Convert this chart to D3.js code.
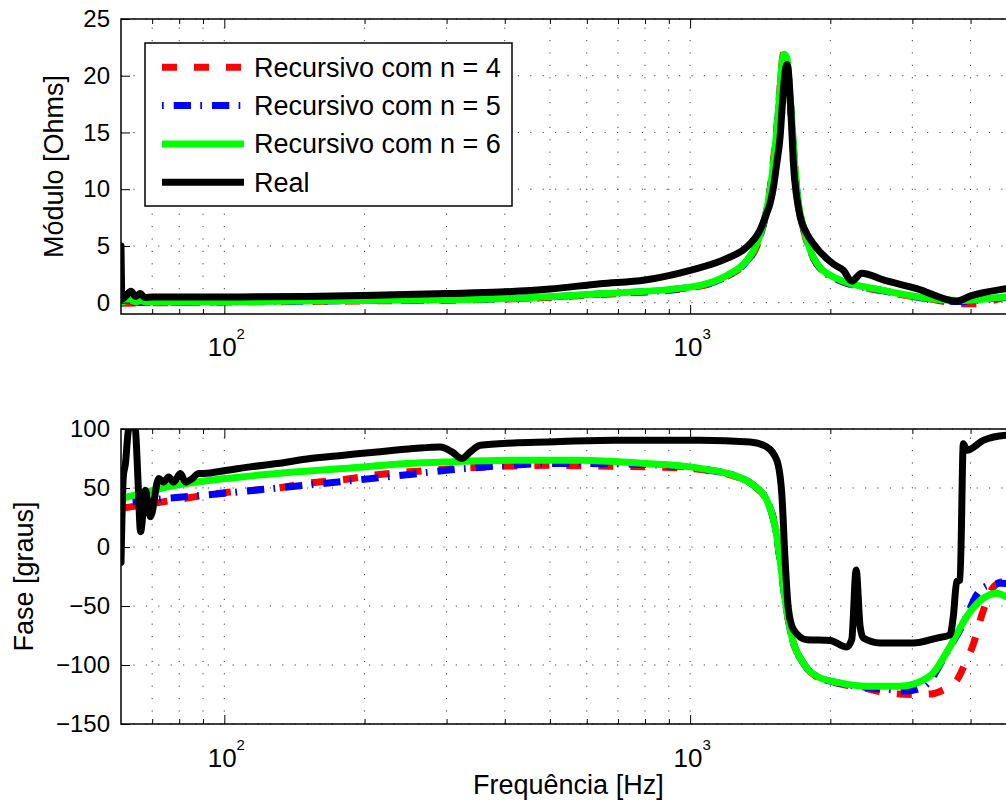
<!DOCTYPE html>
<html>
<head>
<meta charset="utf-8">
<script src="https://cdn.jsdelivr.net/npm/d3@7"></script>
<style>
  body { margin: 0; background: #fff; }
  svg { display: block; }
  text { font-family: "Liberation Sans", Arial, Helvetica, sans-serif; fill: #000; }
</style>
</head>
<body>
<svg id="chart" width="1006" height="808"></svg>
<script>
// ---- Data -------------------------------------------------------------
const seriesNames = ["Recursivo com n = 4", "Recursivo com n = 5", "Recursivo com n = 6", "Real"];

const freqLimits = [60, 5000];
const xMajorTicks = [100, 1000];
const xMinorTicks = [70, 80, 90, 200, 300, 400, 500, 600, 700, 800, 900, 2000, 3000, 4000];
const xTickExponents = ["2", "3"];

const modLimits = [-1, 25];
const modTicks = [0, 5, 10, 15, 20, 25];
const faseLimits = [-150, 100];
const faseTicks = [-150, -100, -50, 0, 50, 100];

// Impedance magnitude [Ohms]
const modFreqN4 = [60, 100, 200, 390, 641, 1000, 1199, 1323, 1391, 1449, 1485, 1510, 1535, 1560, 1573, 1590, 1613, 1626, 1653, 1680, 1708, 1750, 1839, 2030, 2599, 3300, 3900, 4100, 4766, 5000];
const modN4 = [-0.05, 0.05, 0.15, 0.3, 0.72, 1.3, 2.3, 3.6, 5.0, 7.6, 10.0, 12.6, 15.5, 19.0, 21.0, 22.0, 21.6, 19.8, 15.8, 11.5, 8.6, 6.5, 3.9, 2.2, 1.0, 0.3, -0.1, -0.1, 0.45, 0.5];

const modFreqN5 = [60, 100, 200, 390, 641, 1000, 1199, 1323, 1391, 1449, 1485, 1510, 1535, 1560, 1573, 1590, 1613, 1626, 1653, 1680, 1708, 1750, 1839, 2030, 2599, 3300, 3736, 4766, 5000];
const modN5 = [0, 0.07, 0.18, 0.33, 0.76, 1.34, 2.35, 3.65, 5.1, 7.5, 9.8, 12.2, 15.1, 18.7, 20.7, 21.8, 21.5, 19.9, 16, 11.6, 8.7, 6.6, 3.95, 2.2, 1.05, 0.3, 0.1, 0.47, 0.52];

const modFreqN6 = [60, 63, 64.5, 66, 68, 100, 200, 390, 641, 1000, 1199, 1323, 1391, 1449, 1485, 1510, 1535, 1560, 1573, 1590, 1613, 1626, 1653, 1680, 1708, 1750, 1839, 2030, 2599, 3300, 3736, 4766, 5000];
const modN6 = [0, 0.25, 0.05, 0.2, 0.05, 0.08, 0.2, 0.35, 0.79, 1.37, 2.4, 3.7, 5.2, 7.6, 9.9, 12.3, 15.2, 18.8, 20.8, 21.9, 21.6, 20, 16.1, 11.7, 8.75, 6.7, 4.0, 2.26, 1.08, 0.35, 0.2, 0.49, 0.55];

const modFreqReal = [60, 60.3, 61.5, 63, 64.5, 66, 67.5, 70, 100, 150, 210, 300, 390, 500, 641, 800, 1000, 1199, 1323, 1413, 1461, 1485, 1510, 1535, 1560, 1573, 1586, 1599, 1613, 1626, 1639, 1653, 1666, 1694, 1722, 1780, 1839, 2030, 2133, 2223, 2336, 2599, 3066, 3736, 3990, 4766, 5000];
const modReal = [5, 0.3, 0.6, 1.0, 0.55, 0.8, 0.45, 0.5, 0.5, 0.55, 0.65, 0.8, 0.93, 1.2, 1.67, 2.0, 2.85, 3.9, 4.9, 6.4, 7.9, 8.75, 10.2, 12.3, 14.6, 16.7, 18.8, 20.3, 21.0, 20.3, 18.2, 15.2, 12.3, 9.3, 7.6, 6.1, 5.2, 3.4, 2.85, 1.9, 2.6, 2.0, 1.23, 0.13, 0.58, 1.23, 1.35];

// Impedance phase [degrees]
const faseFreqN4 = [60, 68, 80, 100, 130, 150, 180, 210, 250, 300, 420, 500, 600, 800, 1000, 1104, 1238, 1367, 1461, 1522, 1560, 1599, 1653, 1750, 1870, 2099, 2394, 2640, 3015, 3300, 3500, 3650, 3750, 3900, 4050, 4250, 4500, 4700, 5000];
const faseN4 = [32.7, 36, 40.5, 46, 50, 54, 57, 61, 63.7, 66, 68.7, 69.3, 68.7, 68, 66.5, 64.5, 60.5, 52, 39.5, 17, -11, -45, -76, -98.5, -110, -116, -120, -123.6, -125, -124.5, -121, -117, -112, -98, -83, -55, -33, -29.3, -30];

const faseFreqN5 = [60, 70, 100, 130, 180, 250, 300, 400, 500, 700, 1000, 1104, 1238, 1367, 1461, 1522, 1560, 1599, 1653, 1750, 1870, 2099, 2394, 2700, 2900, 3150, 3327, 3485, 3650, 3798, 3960, 4122, 4400, 4650, 5000];
const faseN5 = [37, 40, 45.5, 50, 55.5, 61.5, 65, 69, 70.8, 70.5, 67.5, 65, 60.9, 52.4, 39.7, 17.2, -11, -44.8, -75.8, -98.3, -109.6, -115.5, -119, -121, -122, -119, -109.6, -95.5, -82, -70, -55, -40.6, -32, -30.7, -32];

const faseFreqN6 = [60, 79.1, 100.5, 129.8, 180.3, 246.6, 300.6, 417.7, 580.7, 807.5, 1000, 1075, 1238, 1367, 1461, 1522, 1560, 1599, 1653, 1750, 1870, 2099, 2394, 2823, 3066, 3327, 3614, 3926, 4260, 4550, 4764, 5000];
const faseN6 = [41, 52.4, 58, 62.3, 66.5, 70.7, 72.1, 73.5, 73.5, 70.7, 67.9, 66, 60.9, 52.4, 39.7, 17.2, -11, -44.8, -75.8, -98.3, -109.6, -115.2, -118, -118, -115.2, -106.7, -84.3, -58.9, -43.4, -39.1, -42, -45];

const faseFreqReal = [60, 60.7, 61.3, 62.3, 63.3, 64.4, 65.2, 66.1, 67.7, 69.4, 72.3, 74.1, 75.9, 77.8, 80.5, 82.5, 85.3, 88.1, 90.3, 101.3, 113.7, 129.8, 153, 180.3, 212.7, 254.8, 290.8, 308.2, 323.7, 337.3, 354.4, 417.7, 492.6, 684.6, 1051, 1345, 1461, 1535, 1573, 1599, 1626, 1667, 1780, 1997, 2169, 2223, 2272, 2317, 2355, 2557, 3015, 3384, 3614, 3673, 3736, 3798, 3860, 3926, 4260, 4764, 5000];
const faseReal = [-13, 60, 70, 100, 104, 100, 60, 13, 48, 25.6, 58, 55, 59.4, 55, 62.3, 55, 58, 62.3, 62.3, 65, 67.9, 70.7, 75, 77.8, 80.6, 83.4, 84.8, 80.6, 75, 80.6, 86.2, 88.2, 89, 90.4, 90.4, 89, 84.8, 73.5, 45.4, -11, -53, -70, -78.6, -79.2, -84.8, -78.6, -19.4, -67.4, -77.2, -81.4, -81.4, -77.2, -74.4, -58.9, -29.3, -27.9, 87.6, 82, 90.4, 94.7, 95];

// ---- Styles -----------------------------------------------------------
const seriesStyles = [
  { color: "#ff0000", dash: "15,17" },
  { color: "#0000ff", dash: "1.7,10,17.3,9.3" },
  { color: "#00ff00", dash: null },
  { color: "#000000", dash: null }
];
const lineWidth = 7;

// ---- Layout -----------------------------------------------------------
const svg = d3.select("#chart");
const plotLeft = 121, plotRight = 1015.7;
const x = d3.scaleLog().domain(freqLimits).range([plotLeft, plotRight]);
const zip = (fs, vs) => fs.map((f, i) => ({ f, v: vs[i] }));

function drawPanel(id, top, bottom, yDomain, yTicks, data, yLabel, yLabelX, xLabelBaseline) {
  const y = d3.scaleLinear().domain(yDomain).range([bottom, top]);
  const g = svg.append("g");

  g.append("clipPath").attr("id", id)
    .append("rect").attr("x", plotLeft).attr("y", top)
    .attr("width", plotRight - plotLeft).attr("height", bottom - top);

  // dotted grid
  const grid = g.append("g").attr("stroke", "#000").attr("stroke-width", 1)
    .attr("stroke-dasharray", "1.2,11.2").attr("opacity", 0.75);
  grid.selectAll("line.v").data(xMajorTicks.concat(xMinorTicks)).join("line")
    .attr("x1", d => x(d)).attr("x2", d => x(d)).attr("y1", bottom).attr("y2", top);
  grid.selectAll("line.h").data(yTicks).join("line")
    .attr("x1", plotLeft).attr("x2", plotRight).attr("y1", d => y(d)).attr("y2", d => y(d));

  // curves
  const line = d3.line().x(d => x(d.f)).y(d => y(d.v)).curve(d3.curveMonotoneX);
  const curves = g.append("g").attr("clip-path", `url(#${id})`);
  data.forEach((pts, i) => {
    const st = seriesStyles[i];
    curves.append("path").datum(pts)
      .attr("d", line).attr("fill", "none")
      .attr("stroke", st.color).attr("stroke-width", lineWidth)
      .attr("stroke-dasharray", st.dash)
      .attr("stroke-linejoin", "round")
      .attr("stroke-linecap", st.dash ? "butt" : "round");
  });

  // ticks (inward, on all visible sides)
  const strip = sel => { sel.select(".domain").remove(); sel.attr("font-family", null).attr("font-size", null); };
  g.append("g").attr("transform", `translate(0,${bottom})`)
    .call(d3.axisBottom(x).tickValues(xMajorTicks).tickSize(-9).tickSizeOuter(0).tickFormat("")).call(strip);
  g.append("g").attr("transform", `translate(0,${bottom})`)
    .call(d3.axisBottom(x).tickValues(xMinorTicks).tickSize(-5).tickSizeOuter(0).tickFormat("")).call(strip);
  g.append("g").attr("transform", `translate(0,${top})`)
    .call(d3.axisTop(x).tickValues(xMajorTicks).tickSize(-9).tickSizeOuter(0).tickFormat("")).call(strip);
  g.append("g").attr("transform", `translate(0,${top})`)
    .call(d3.axisTop(x).tickValues(xMinorTicks).tickSize(-5).tickSizeOuter(0).tickFormat("")).call(strip);

  const yAxis = g.append("g").attr("transform", `translate(${plotLeft},0)`)
    .call(d3.axisLeft(y).tickValues(yTicks).tickSize(-9).tickSizeOuter(0).tickPadding(11).tickFormat(d3.format("d")))
    .call(strip);
  yAxis.selectAll("text").attr("font-size", 24);

  // axes box
  g.append("rect").attr("x", plotLeft).attr("y", top)
    .attr("width", plotRight - plotLeft).attr("height", bottom - top)
    .attr("fill", "none").attr("stroke", "#000").attr("stroke-width", 1.5);

  // x tick labels as powers of ten
  xMajorTicks.forEach((t, i) => {
    const txt = g.append("text").attr("x", x(t) + 2).attr("y", xLabelBaseline)
      .attr("text-anchor", "middle").attr("font-size", 26).text("10");
    txt.append("tspan").attr("dy", -17).attr("font-size", 15).text(xTickExponents[i]);
  });

  // y label
  g.append("text")
    .attr("transform", `translate(${yLabelX},${(top + bottom) / 2}) rotate(-90)`)
    .attr("text-anchor", "middle").attr("font-size", 27).text(yLabel);

  return y;
}

drawPanel("clipMod", 19, 314, modLimits, modTicks,
  [zip(modFreqN4, modN4), zip(modFreqN5, modN5), zip(modFreqN6, modN6), zip(modFreqReal, modReal)],
  "Módulo [Ohms]", 63, 356);

drawPanel("clipFase", 429, 724, faseLimits, faseTicks,
  [zip(faseFreqN4, faseN4), zip(faseFreqN5, faseN5), zip(faseFreqN6, faseN6), zip(faseFreqReal, faseReal)],
  "Fase [graus]", 33, 767);

// x label
svg.append("text").attr("x", (plotLeft + plotRight) / 2).attr("y", 794)
  .attr("text-anchor", "middle").attr("font-size", 27).text("Frequência [Hz]");

// legend
const legend = svg.append("g");
legend.append("rect").attr("x", 145).attr("y", 43).attr("width", 367).attr("height", 163)
  .attr("fill", "#fff").attr("stroke", "#000").attr("stroke-width", 1.5);
seriesNames.forEach((name, i) => {
  const yy = 67.3 + i * 38.3;
  const st = seriesStyles[i];
  legend.append("line").attr("x1", 162).attr("x2", 244).attr("y1", yy).attr("y2", yy)
    .attr("stroke", st.color).attr("stroke-width", lineWidth)
    .attr("stroke-dasharray", st.dash).attr("stroke-linecap", "butt");
  legend.append("text").attr("x", 254).attr("y", yy).attr("dy", "0.35em")
    .attr("font-size", 27).text(name);
});
</script>
</body>
</html>
